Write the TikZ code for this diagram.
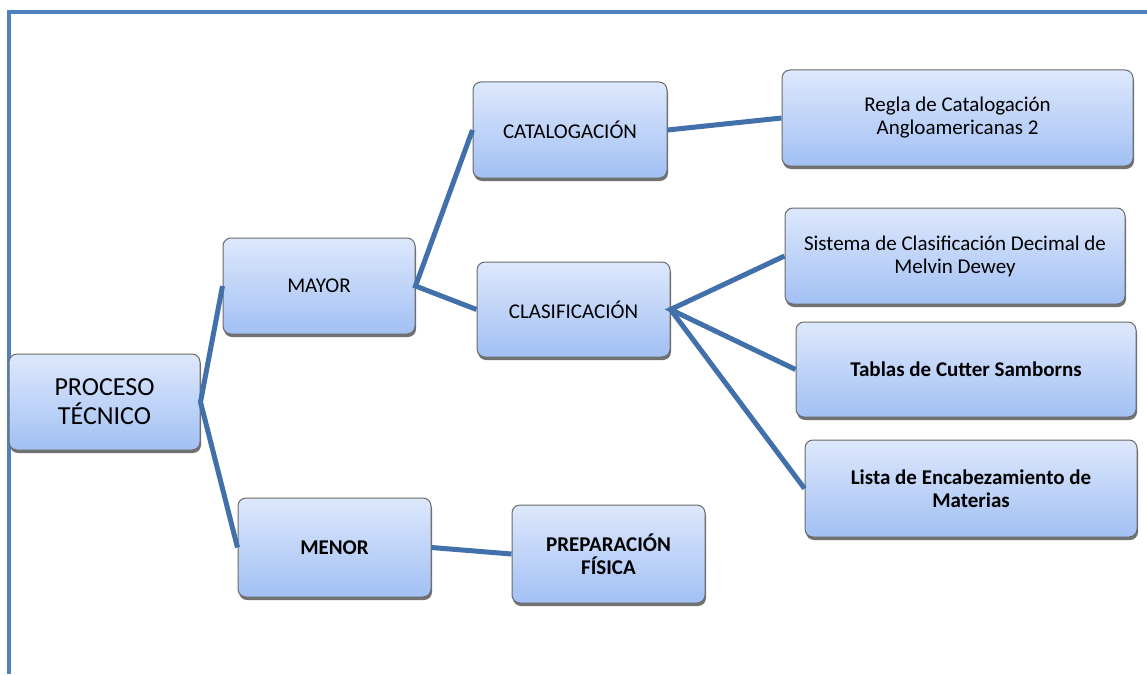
\documentclass[tikz,border=0pt]{standalone}
\usepackage{fontspec}
\setmainfont{Carlito}
\usetikzlibrary{shadows}
\definecolor{framec}{HTML}{4F81BD}
\definecolor{linec}{HTML}{4270AA}
\definecolor{boxtop}{HTML}{DDE8FC}
\definecolor{boxbot}{HTML}{A2C0F4}
\definecolor{boxdraw}{HTML}{6A6A6A}
\begin{document}
\begin{tikzpicture}[x=1pt,y=-1pt,
  box/.style={draw=boxdraw, line width=1pt, rounded corners=8pt,
    top color=boxtop, bottom color=boxbot, align=center, text=black,
    inner sep=2pt,
    drop shadow={shadow xshift=1pt, shadow yshift=-3pt, fill=black!65, opacity=0.85},
    font=\fontsize{21}{23}\selectfont},
  bbox/.style={box, font=\fontsize{21}{23}\selectfont\bfseries},
  conn/.style={draw=linec, line width=5pt},
  framel/.style={draw=framec, line width=4pt}]
\useasboundingbox (0,0) rectangle (1147,674);
\draw[framel] (9,674) -- (9,12) -- (1147,12);

\node[box, minimum width=191pt, minimum height=96pt, font=\fontsize{26}{29}\selectfont] (proc) at (104.5,402) {PROCESO\\TÉCNICO};
\node[box, minimum width=192pt, minimum height=96pt] (mayor) at (319,286) {MAYOR};
\node[bbox, minimum width=193pt, minimum height=99pt] (menor) at (334.5,547.5) {MENOR};
\node[box, minimum width=194pt, minimum height=96pt] (cat) at (570,130) {CATALOGACIÓN};
\node[box, minimum width=193pt, minimum height=95pt] (clas) at (573.5,309.5) {CLASIFICACIÓN};
\node[bbox, minimum width=193pt, minimum height=98pt] (prep) at (608.5,554) {PREPARACIÓN\\FÍSICA};
\node[box, minimum width=351pt, minimum height=96pt] (regla) at (957.5,118) {Regla de Catalogación\\Angloamericanas 2};
\node[box, minimum width=340pt, minimum height=96pt] (sist) at (955,256) {Sistema de Clasificación Decimal de\\Melvin Dewey};
\node[bbox, minimum width=340pt, minimum height=95pt] (tabl) at (966,369.5) {Tablas de Cutter Samborns};
\node[bbox, minimum width=332pt, minimum height=97pt] (lista) at (971,488.5) {Lista de Encabezamiento de\\Materias};

\draw[conn] (mayor.west) -- (proc.east) -- (menor.west);
\draw[conn] (cat.west) -- (mayor.east) -- (clas.west);
\draw[conn] (cat.east) -- (regla.west);
\draw[conn] (sist.west) -- (clas.east) -- (tabl.west);
\draw[conn] (clas.east) -- (lista.west);
\draw[conn] (menor.east) -- (prep.west);
\end{tikzpicture}
\end{document}
